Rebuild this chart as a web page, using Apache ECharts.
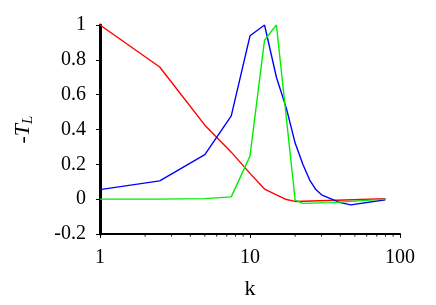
<!DOCTYPE html>
<html><head><meta charset="utf-8">
<script src="https://cdn.jsdelivr.net/npm/echarts@6/dist/echarts.min.js"></script>
<style>html,body{margin:0;padding:0;background:#fff}#c{width:436px;height:305px}</style>
</head><body><div id="c"></div>
<script>
const redK = [1, 2.5, 5, 7.5, 10, 12.5, 15, 17.5, 20, 80];
const redV = [1.0, 0.759, 0.425, 0.27, 0.148, 0.058, 0.025, -0.002, -0.013, 0.002];
const blueK = [1, 2.5, 5, 7.5, 10, 12.5, 15, 17.5, 20, 22.5, 25, 27.5, 30, 35, 40, 47, 80];
const blueV = [0.055, 0.105, 0.256, 0.478, 0.938, 1.0, 0.70, 0.52, 0.322, 0.20, 0.11, 0.055, 0.025, 0.0, -0.02, -0.033, -0.003];
const greenK = [1, 2.5, 5, 7.5, 10, 12.5, 15, 20, 22.5, 35, 80];
const greenV = [0.0, 0.0, 0.003, 0.013, 0.247, 0.913, 1.0, -0.006, -0.024, -0.02, 0.0];
const minorTickK = [2, 3, 4, 5, 6, 7, 8, 9, 20, 30, 40, 50, 60, 70, 80, 90];
const yTicks = [-0.2, 0, 0.2, 0.4, 0.6, 0.8, 1];

const zip = (k, v) => k.map((x, i) => [x, v[i]]);
const serif = '"Liberation Serif", "DejaVu Serif", serif';

const chart = echarts.init(document.getElementById('c'));
chart.setOption({
  animation: false,
  grid: { left: 100, right: 36, top: 25, bottom: 67 },
  xAxis: {
    type: 'log', logBase: 10, min: 1, max: 100,
    name: 'k', nameLocation: 'middle', nameGap: 44,
    nameTextStyle: { fontFamily: serif, fontSize: 22, color: '#000' },
    axisLine: { onZero: false, lineStyle: { color: '#000', width: 2 } },
    axisTick: { show: true, length: 4, lineStyle: { color: '#000', width: 1 } },
    axisLabel: { fontFamily: serif, fontSize: 20, color: '#000', margin: 14 },
    splitLine: { show: false }
  },
  yAxis: {
    type: 'value', min: -0.2, max: 1, interval: 0.2,
    name: '{a|-}{t|T}{s|L}', nameLocation: 'middle', nameGap: 64, nameRotate: 90,
    nameTextStyle: {
      color: '#000',
      rich: {
        a: { fontFamily: serif, fontSize: 22, color: '#000' },
        t: { fontFamily: serif, fontSize: 22, fontStyle: 'italic', color: '#000' },
        s: { fontFamily: serif, fontSize: 15, fontStyle: 'italic', color: '#000', padding: [10, 0, 0, 0] }
      }
    },
    axisLine: { show: true, onZero: false, lineStyle: { color: '#000', width: 3 } },
    axisTick: { show: true, length: 4, lineStyle: { color: '#000', width: 1 } },
    axisLabel: {
      fontFamily: serif, fontSize: 20, color: '#000', margin: 14,
      formatter: v => {
        const r = Math.round(v * 10) / 10;
        return yTicks.indexOf(r) >= 0 ? String(r) : '';
      }
    },
    splitLine: { show: false }
  },
  series: [
    { type: 'line', data: zip(redK, redV), showSymbol: false, lineStyle: { color: '#ff0000', width: 1.4 }, itemStyle: { color: '#ff0000' } },
    { type: 'line', data: zip(blueK, blueV), showSymbol: false, lineStyle: { color: '#0000ff', width: 1.4 }, itemStyle: { color: '#0000ff' } },
    { type: 'line', data: zip(greenK, greenV), showSymbol: false, lineStyle: { color: '#00ee00', width: 1.4 }, itemStyle: { color: '#00ee00' } },
    {
      type: 'custom', silent: true,
      data: minorTickK.map(k => [k, -0.2]),
      renderItem: (params, api) => {
        const p = api.coord([api.value(0), api.value(1)]);
        return { type: 'line', shape: { x1: p[0], y1: p[1], x2: p[0], y2: p[1] + 2.5 }, style: { stroke: '#000', lineWidth: 1 } };
      }
    }
  ]
});
</script></body></html>
